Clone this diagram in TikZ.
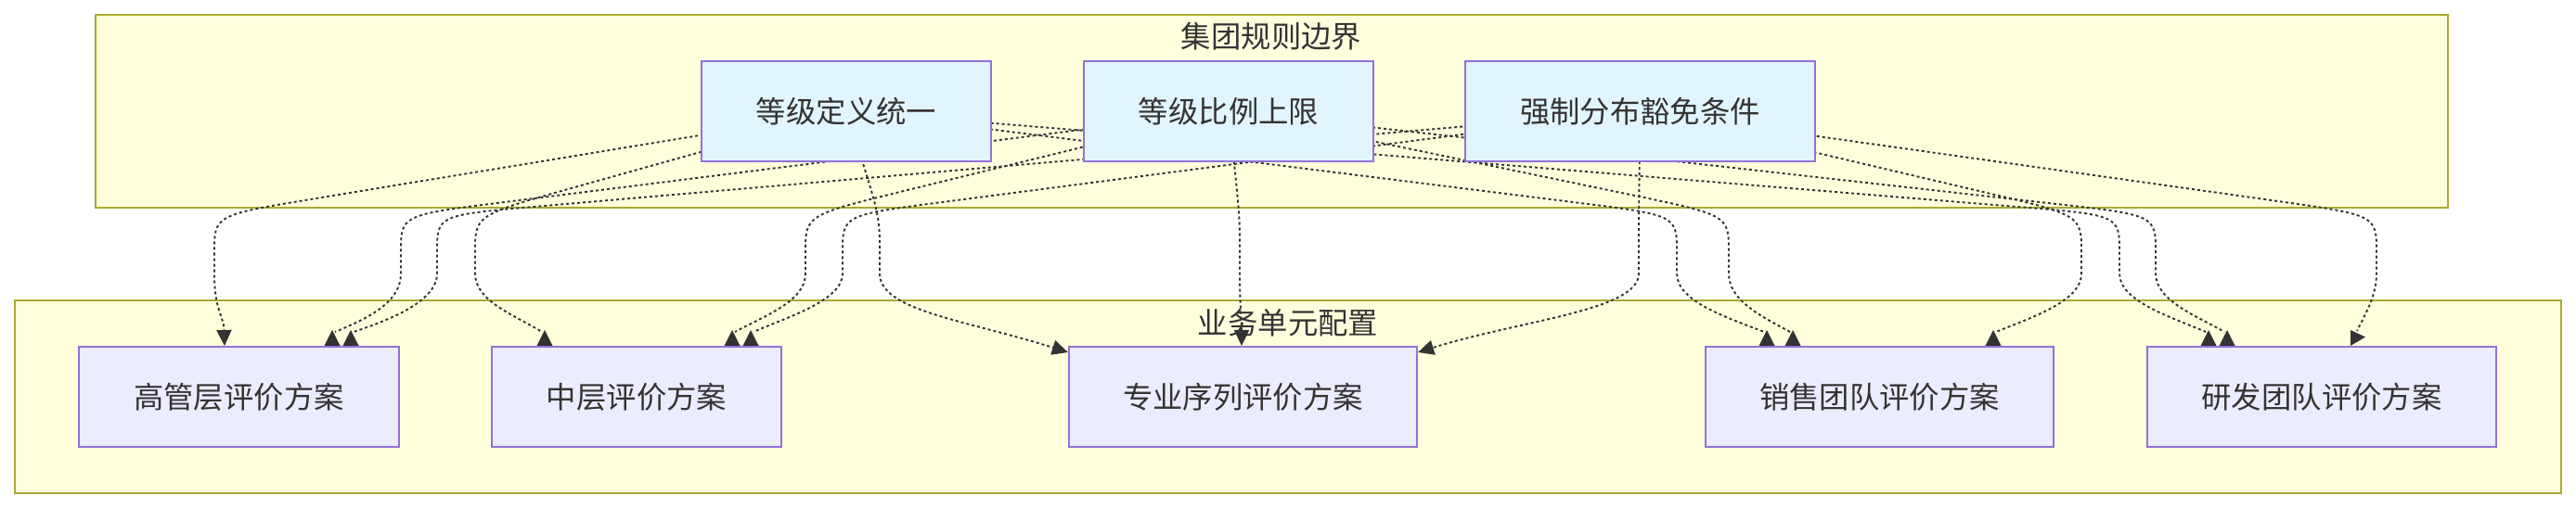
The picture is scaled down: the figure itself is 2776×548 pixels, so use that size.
\documentclass[tikz,border=0pt]{standalone}
\usepackage{fontspec}
\newfontfamily\cjk{Noto Sans CJK SC}
\usetikzlibrary{calc,arrows.meta}
\definecolor{clfill}{HTML}{FFFFDE}
\definecolor{cldraw}{HTML}{AAAA33}
\definecolor{topfill}{HTML}{E1F5FE}
\definecolor{botfill}{HTML}{ECECFF}
\definecolor{nodedraw}{HTML}{9370DB}
\definecolor{ink}{HTML}{333333}
\pgfdeclarelayer{bg}
\pgfdeclarelayer{lines}
\pgfsetlayers{bg,lines,main}
\newcommand\dedge[6][]{\draw[edge,#1] (#2.center) -- ($(#3,232)!1.1cm!(#2.center)$) .. controls (#3,232) .. (#3,272) -- (#3,295) .. controls #4 and #5 .. #6;}
\newcommand\uptri[1]{\fill[tipc] #1 ++(-8.5,0) -- ++(17,0) -- ++(-8.5,-17) -- cycle;}
\begin{document}
\begin{tikzpicture}[x=0.01cm,y=-0.01cm,
  cluster/.style={draw=cldraw,fill=clfill,line width=0.02cm},
  box/.style={draw=nodedraw,line width=0.02cm,minimum height=1.08cm,inner sep=0pt,text=ink,font=\cjk\fontsize{9.2pt}{11pt}\selectfont},
  topbox/.style={box,fill=topfill},
  botbox/.style={box,fill=botfill},
  title/.style={inner sep=0pt,text=ink,font=\cjk\fontsize{9.2pt}{11pt}\selectfont},
  edge/.style={draw=ink,line width=0.019cm,dash pattern=on 0.03cm off 0.03cm},
  tipc/.style={fill=ink},
  arr/.style={-{Triangle[length=0.17cm,width=0.16cm]}}
]
\useasboundingbox (0,0) rectangle (2776,548);
\begin{pgfonlayer}{bg}
\draw[cluster] (103,16) rectangle (2638,224);
\draw[cluster] (16,324) rectangle (2760,532);
\end{pgfonlayer}
\node[title] (t1) at (1370,39) {集团规则边界};
\node[title] (t2) at (1388,348) {业务单元配置};

\node[topbox,minimum width=3.12cm] (A) at (912,120) {等级定义统一};
\node[topbox,minimum width=3.12cm] (B) at (1324,120) {等级比例上限};
\node[topbox,minimum width=3.77cm] (C) at (1767.5,120) {强制分布豁免条件};
\node[botbox,minimum width=3.45cm] (g) at (257.5,428) {高管层评价方案};
\node[botbox,minimum width=3.12cm] (m) at (686,428) {中层评价方案};
\node[botbox,minimum width=3.75cm] (p) at (1339.5,428) {专业序列评价方案};
\node[botbox,minimum width=3.75cm] (s) at (2025.5,428) {销售团队评价方案};
\node[botbox,minimum width=3.76cm] (r) at (2502,428) {研发团队评价方案};

\begin{pgfonlayer}{lines}
\dedge[arr]{A}{231}{(231,335)}{(241,340)}{($(g.north)+(-15.5,0)$)}
\dedge{B}{432}{(432,325)}{(400,342)}{($(g.north)+(103.5,-15)$)}
\uptri{($(g.north)+(100.5,0)$)}
\dedge{C}{471}{(471,325)}{(420,345)}{($(g.north)+(123.5,-15)$)}
\uptri{($(g.north)+(120.5,0)$)}
\dedge{A}{512}{(512,325)}{(555,340)}{($(m.north)+(-102,-15)$)}
\uptri{($(m.north)+(-99,0)$)}
\dedge{B}{868}{(868,325)}{(825,340)}{($(m.north)+(106,-15)$)}
\uptri{($(m.north)+(103,0)$)}
\dedge{C}{908}{(908,325)}{(845,343)}{($(m.north)+(126,-15)$)}
\uptri{($(m.north)+(123,0)$)}
\dedge[arr]{A}{948}{(948,335)}{(1040,345)}{($(p.north west)+(0,7)$)}
\dedge[arr]{B}{1336}{(1336,330)}{(1338,345)}{($(p.north)+(-1.5,0)$)}
\dedge[arr]{C}{1766}{(1766,335)}{(1640,345)}{($(p.north east)+(0,7)$)}
\dedge{A}{1807}{(1807,325)}{(1860,342)}{($(s.north)+(-124.5,-15)$)}
\uptri{($(s.north)+(-121.5,0)$)}
\dedge{B}{1863}{(1863,325)}{(1900,342)}{($(s.north)+(-96.5,-15)$)}
\uptri{($(s.north)+(-93.5,0)$)}
\dedge{C}{2243}{(2243,325)}{(2190,342)}{($(s.north)+(125.5,-15)$)}
\uptri{($(s.north)+(122.5,0)$)}
\dedge{A}{2284}{(2284,325)}{(2340,342)}{($(r.north)+(-125,-15)$)}
\uptri{($(r.north)+(-122,0)$)}
\dedge{B}{2323}{(2323,325)}{(2370,342)}{($(r.north)+(-105,-15)$)}
\uptri{($(r.north)+(-102,0)$)}
\dedge{C}{2561}{(2561,320)}{(2548,340)}{($(r.north)+(38,-16)$)}
\fill[tipc] ($(r.north)+(31,0)$) -- ++(0,-17) -- ++(16,7.5) -- cycle;
\end{pgfonlayer}
\end{tikzpicture}
\end{document}
